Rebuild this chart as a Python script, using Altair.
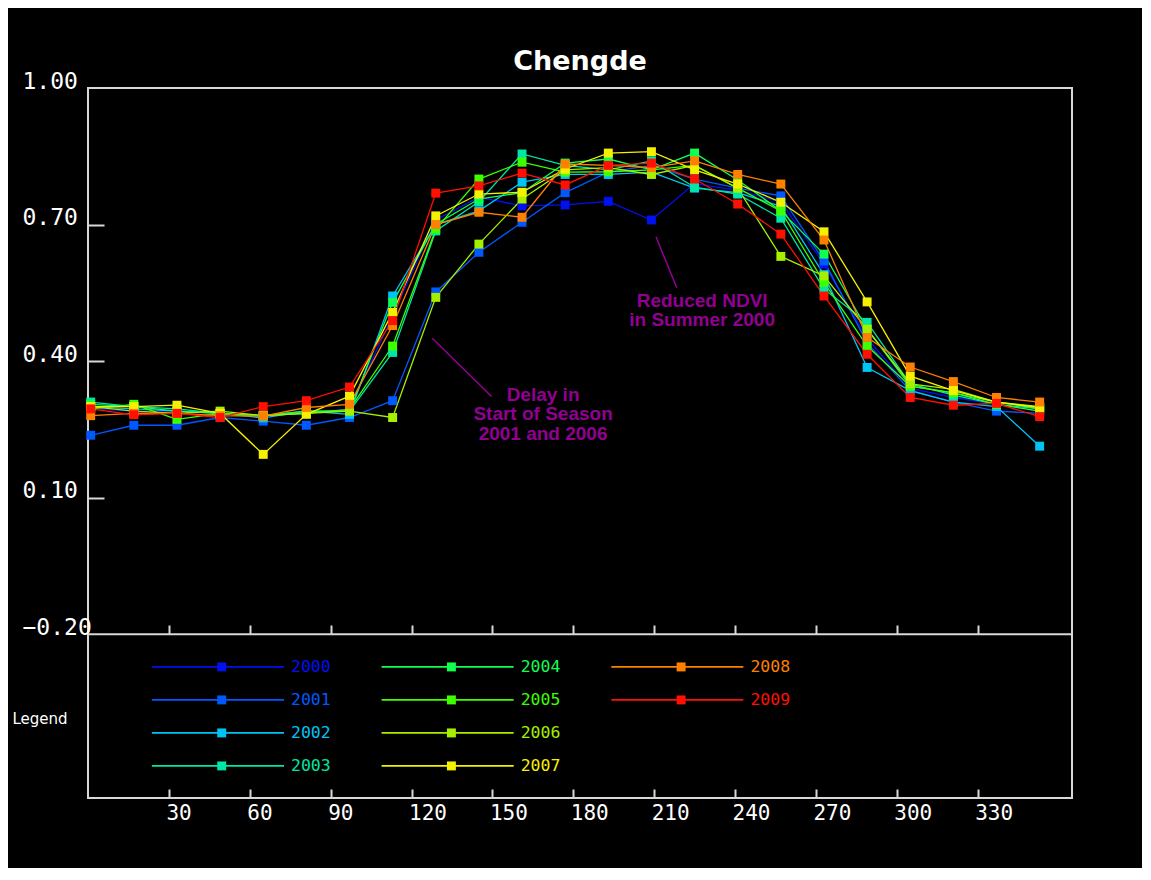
import altair as alt
import pandas as pd

# ---------------- data ----------------
days = [1, 17, 33, 49, 65, 81, 97, 113, 129, 145, 161, 177, 193, 209, 225, 241, 257, 273, 289, 305, 321, 337, 353]
years = ["2000", "2001", "2002", "2003", "2004", "2005", "2006", "2007", "2008", "2009"]

ndvi_2000 = [0.295, 0.290, 0.290, 0.285, 0.280, 0.285, 0.295, 0.500, 0.710, 0.760, 0.741, 0.743, 0.751, 0.710, 0.790, 0.775, 0.750, 0.613, 0.450, 0.340, 0.320, 0.305, 0.290]
ndvi_2001 = [0.237, 0.259, 0.259, 0.276, 0.268, 0.259, 0.276, 0.313, 0.552, 0.639, 0.705, 0.770, 0.815, 0.830, 0.800, 0.780, 0.763, 0.620, 0.440, 0.335, 0.310, 0.290, 0.285]
ndvi_2002 = [0.300, 0.295, 0.290, 0.285, 0.275, 0.290, 0.283, 0.543, 0.700, 0.730, 0.793, 0.810, 0.810, 0.815, 0.780, 0.770, 0.740, 0.590, 0.386, 0.335, 0.310, 0.300, 0.213]
ndvi_2003 = [0.310, 0.300, 0.295, 0.285, 0.280, 0.290, 0.290, 0.419, 0.686, 0.750, 0.855, 0.830, 0.820, 0.840, 0.782, 0.767, 0.714, 0.558, 0.485, 0.350, 0.325, 0.305, 0.295]
ndvi_2004 = [0.305, 0.300, 0.290, 0.285, 0.280, 0.290, 0.290, 0.529, 0.700, 0.756, 0.770, 0.835, 0.844, 0.820, 0.857, 0.798, 0.730, 0.635, 0.470, 0.345, 0.330, 0.310, 0.295]
ndvi_2005 = [0.295, 0.305, 0.272, 0.285, 0.280, 0.285, 0.294, 0.433, 0.690, 0.800, 0.837, 0.815, 0.816, 0.820, 0.830, 0.780, 0.730, 0.573, 0.433, 0.345, 0.330, 0.305, 0.290]
ndvi_2006 = [0.300, 0.290, 0.285, 0.290, 0.280, 0.285, 0.290, 0.276, 0.540, 0.657, 0.756, 0.820, 0.825, 0.810, 0.830, 0.780, 0.630, 0.587, 0.470, 0.350, 0.338, 0.310, 0.300]
ndvi_2007 = [0.300, 0.300, 0.303, 0.285, 0.195, 0.283, 0.323, 0.507, 0.719, 0.767, 0.771, 0.822, 0.857, 0.860, 0.820, 0.789, 0.749, 0.684, 0.530, 0.367, 0.335, 0.310, 0.298]
ndvi_2008 = [0.280, 0.285, 0.285, 0.280, 0.279, 0.298, 0.305, 0.478, 0.700, 0.727, 0.716, 0.833, 0.830, 0.825, 0.840, 0.810, 0.789, 0.666, 0.452, 0.387, 0.355, 0.320, 0.310]
ndvi_2009 = [0.295, 0.282, 0.285, 0.276, 0.300, 0.313, 0.343, 0.489, 0.769, 0.785, 0.813, 0.787, 0.830, 0.835, 0.800, 0.745, 0.679, 0.543, 0.415, 0.320, 0.303, 0.307, 0.278]

year_colors = ["#0010f0", "#0058ff", "#00c4f4", "#00e6a6", "#10ff50",
               "#3cff00", "#a4f000", "#f5f000", "#ff8000", "#ff1000"]

x_tick_values = [30, 60, 90, 120, 150, 180, 210, 240, 270, 300, 330]
y_label_values = [1.0, 0.7, 0.4, 0.1, -0.2]
y_tick_values = [0.7, 0.4, 0.1]

annot_texts = ["Delay in\nStart of Season\n2001 and 2006", "Reduced NDVI\nin Summer 2000"]
annot_text_x = [168.8, 227.8]
annot_text_y = [0.326, 0.533]
annot_line_x1 = [127.7, 210.7]
annot_line_y1 = [0.450, 0.673]
annot_line_x2 = [149.7, 218.4]
annot_line_y2 = [0.322, 0.561]

# ---------------- tables ----------------
series = [ndvi_2000, ndvi_2001, ndvi_2002, ndvi_2003, ndvi_2004,
          ndvi_2005, ndvi_2006, ndvi_2007, ndvi_2008, ndvi_2009]
df = pd.DataFrame([{"year": y, "day": d, "ndvi": v}
                   for y, vals in zip(years, series) for d, v in zip(days, vals)])
legend_df = pd.DataFrame({"year": years, "idx": list(range(len(years)))})
annot_df = pd.DataFrame({"label": annot_texts, "tx": annot_text_x, "ty": annot_text_y,
                         "x1": annot_line_x1, "y1": annot_line_y1,
                         "x2": annot_line_x2, "y2": annot_line_y2})
ref_df = pd.DataFrame({"v": [-0.2]})

W, H = 984, 710
x_scale = alt.Scale(domain=[0, 365], nice=False, zero=False)
y_scale = alt.Scale(domain=[-0.56, 1.0], nice=False, zero=False)
col_scale = alt.Scale(domain=years, range=year_colors)
MONO = "DejaVu Sans Mono"
PURPLE = "#920092"
FRAME = "#d8d8d8"

# separator line at -0.2
sep = alt.Chart(ref_df).mark_rule(color=FRAME, strokeWidth=2).encode(
    y=alt.Y("v:Q", scale=y_scale, axis=None)
)

# inward ticks on the -0.2 line and on the left edge
ticks_a = alt.Chart(df).mark_point(opacity=0).encode(
    x=alt.X("day:Q", scale=x_scale, axis=alt.Axis(
        orient="top", offset=-546, values=x_tick_values, labels=False, domain=False,
        grid=False, ticks=True, tickSize=9, tickColor=FRAME, tickWidth=2, title=None)),
    y=alt.Y("ndvi:Q", scale=y_scale, axis=alt.Axis(
        orient="right", offset=-W, values=y_tick_values, labels=False, domain=False,
        grid=False, ticks=True, tickSize=16, tickColor=FRAME, tickWidth=2, title=None)),
)
# inward ticks on the bottom edge
ticks_b = alt.Chart(df).mark_point(opacity=0).encode(
    x=alt.X("day:Q", scale=x_scale, axis=alt.Axis(
        orient="top", offset=-H, values=x_tick_values, labels=False, domain=False,
        grid=False, ticks=True, tickSize=9, tickColor=FRAME, tickWidth=2, title=None)),
    y=alt.Y("ndvi:Q", scale=y_scale, axis=None),
)

lines = alt.Chart(df).mark_line(
    strokeWidth=1.3,
    point=alt.OverlayMarkDef(shape="square", size=80, filled=True, opacity=1, strokeWidth=0),
).encode(
    x=alt.X("day:Q", scale=x_scale, axis=alt.Axis(
        orient="bottom", values=x_tick_values, ticks=False, tickSize=0, domain=False,
        grid=False, labelAlign="left", labelBaseline="top", labelPadding=4,
        labelFont=MONO, labelFontSize=21, labelColor="white", labelFlush=False,
        labelOverlap=False, title=None, labelOffset=-3)),
    y=alt.Y("ndvi:Q", scale=y_scale, axis=alt.Axis(
        orient="left", values=y_label_values, format=".2f", ticks=False, tickSize=0,
        domain=False, grid=False, labelAlign="left", labelBaseline="alphabetic",
        labelPadding=66, labelFont=MONO, labelFontSize=23, labelColor="white",
        labelFlush=False, labelOverlap=False, title=None)),
    color=alt.Color("year:N", scale=col_scale, legend=None),
    detail="year:N",
)

# manual legend (3 columns x 4 rows) in data coordinates
leg_base = alt.Chart(legend_df).transform_calculate(
    col="floor(datum.idx / 4)", row="datum.idx % 4"
).transform_calculate(
    lx0="23.7 + 85.2 * datum.col", lx1="72.7 + 85.2 * datum.col",
    sx="49.6 + 85.2 * datum.col", tx="75.3 + 85.2 * datum.col",
    ly="-0.272 - 0.0725 * datum.row",
)
leg_lines = leg_base.mark_rule(strokeWidth=1.6).encode(
    x=alt.X("lx0:Q", scale=x_scale, axis=None), x2="lx1:Q",
    y=alt.Y("ly:Q", scale=y_scale, axis=None),
    color=alt.Color("year:N", scale=col_scale, legend=None),
)
leg_sq = leg_base.mark_square(size=80, filled=True, opacity=1).encode(
    x=alt.X("sx:Q", scale=x_scale, axis=None),
    y=alt.Y("ly:Q", scale=y_scale, axis=None),
    color=alt.Color("year:N", scale=col_scale, legend=None),
)
leg_txt = leg_base.mark_text(align="left", baseline="middle", font=MONO, fontSize=16.5).encode(
    x=alt.X("tx:Q", scale=x_scale, axis=None),
    y=alt.Y("ly:Q", scale=y_scale, axis=None),
    text="year:N",
    color=alt.Color("year:N", scale=col_scale, legend=None),
)
leg_title = alt.Chart(pd.DataFrame({"t": ["Legend"], "x": [-17.8], "y": [-0.387]})).mark_text(
    align="center", baseline="middle", font="DejaVu Sans", fontSize=15, color="white"
).encode(
    x=alt.X("x:Q", scale=x_scale, axis=None),
    y=alt.Y("y:Q", scale=y_scale, axis=None),
    text="t:N",
)

annot_lines = alt.Chart(annot_df).mark_rule(color=PURPLE, strokeWidth=1.5).encode(
    x=alt.X("x1:Q", scale=x_scale, axis=None), x2="x2:Q",
    y=alt.Y("y1:Q", scale=y_scale, axis=None), y2="y2:Q",
)
annot_txt = alt.Chart(annot_df).mark_text(
    align="center", baseline="middle", font="Liberation Sans", fontWeight="bold",
    fontSize=19, lineBreak="\n", lineHeight=19.5, color=PURPLE
).encode(
    x=alt.X("tx:Q", scale=x_scale, axis=None),
    y=alt.Y("ty:Q", scale=y_scale, axis=None),
    text="label:N",
)

chart = alt.layer(
    sep, ticks_a, ticks_b, lines, leg_lines, leg_sq, leg_txt, leg_title, annot_lines, annot_txt
).resolve_axis(
    x="independent", y="independent"
).properties(
    width=W, height=H,
    autosize=alt.AutoSizeParams(type="none"),
    padding={"left": 80, "top": 80, "right": 70, "bottom": 70},
    title=alt.TitleParams("Chengde", color="white", font="DejaVu Sans", fontSize=27,
                          fontWeight="bold", anchor="middle", offset=14, dy=20),
).configure(
    background="black"
).configure_view(
    stroke=FRAME, strokeWidth=2
)

chart.save("out.html", embed_options={"renderer": "svg", "actions": False})
